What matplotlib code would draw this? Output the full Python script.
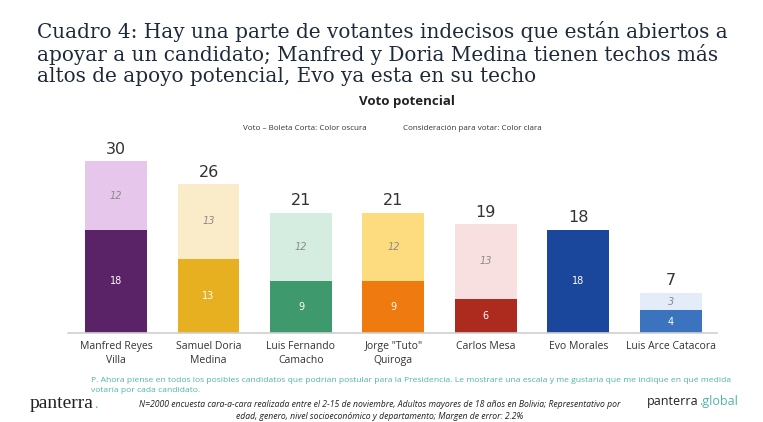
import numpy as np
import matplotlib.pyplot as plt

# Datos del cuadro
candidatos = ['Manfred Reyes\nVilla', 'Samuel Doria\nMedina', 'Luis Fernando\nCamacho',
              'Jorge "Tuto"\nQuiroga', 'Carlos Mesa', 'Evo Morales', 'Luis Arce Catacora']
voto = [18, 13, 9, 9, 6, 18, 4]
consideracion = [12, 13, 12, 12, 13, 0, 3]
totales = [30, 26, 21, 21, 19, 18, 7]

color_oscuro = ['#5a2267', '#e6b020', '#3e9a6c', '#ef7a10', '#ac2a1e', '#1a479b', '#3b73be']
color_claro = ['#e6c6ea', '#faecc8', '#d4ede0', '#fddc80', '#f9e0e0', '#ffffff', '#e3ecf8']

fig = plt.figure(figsize=(7.63, 4.22), dpi=100)
ax = fig.add_axes([68 / 763, 1 - 333 / 422, 649 / 763, 193 / 422])

x = np.arange(len(candidatos))
ancho = 0.67
ax.bar(x, voto, width=ancho, color=color_oscuro)
ax.bar(x, consideracion, width=ancho, bottom=voto, color=color_claro)

for i in range(len(candidatos)):
    ax.text(x[i], voto[i] / 2, str(voto[i]), ha='center', va='center',
            color='white', fontsize=7, family='DejaVu Sans')
    if consideracion[i] > 0:
        ax.text(x[i], voto[i] + consideracion[i] / 2, str(consideracion[i]),
                ha='center', va='center', color='#8a8a8a', fontsize=7,
                style='italic', family='DejaVu Sans')
    ax.text(x[i], totales[i] + 0.8, str(totales[i]), ha='center', va='bottom',
            color='#333333', fontsize=11.5, family='DejaVu Sans')

ax.set_xlim(-0.52, 6.5)
ax.set_ylim(0, 33.7)
ax.set_yticks([])
ax.set_xticks(x)
ax.set_xticklabels(candidatos, fontsize=7.5, color='#333333', family='Open Sans',
                   linespacing=1.3)
ax.tick_params(axis='x', length=0, pad=6)
for lado in ['top', 'right', 'left']:
    ax.spines[lado].set_visible(False)
ax.spines['bottom'].set_color('#d0d0d0')
ax.spines['bottom'].set_linewidth(1.2)

# Título
titulo = ('Cuadro 4: Hay una parte de votantes indecisos que están abiertos a\n'
          'apoyar a un candidato; Manfred y Doria Medina tienen techos más\n'
          'altos de apoyo potencial, Evo ya esta en su techo')
fig.text(37 / 763, 1 - 21 / 422, titulo, ha='left', va='top', fontsize=14.4,
         family='DejaVu Serif', color='#1e2a3a', linespacing=1.13)

fig.text(407 / 763, 1 - 102 / 422, 'Voto potencial', ha='center', va='center',
         fontsize=9.5, fontweight='bold', family='Open Sans', color='#222222')
fig.text(305 / 763, 1 - 128 / 422, 'Voto – Boleta Corta: Color oscura', ha='center',
         va='center', fontsize=5.8, family='Open Sans', color='#333333')
fig.text(472 / 763, 1 - 128 / 422, 'Consideración para votar: Color clara', ha='center',
         va='center', fontsize=5.8, family='Open Sans', color='#333333')

# Notas al pie
nota = ('P. Ahora piense en todos los posibles candidatos que podrían postular para la Presidencia. '
        'Le mostraré una escala y me gustaría que me indique en qué medida\n'
        'votaría por cada candidato.')
fig.text(91 / 763, 1 - 377 / 422, nota, ha='left', va='top', fontsize=6.1,
         family='Open Sans', color='#4fb5a8', linespacing=1.6)

ficha = ('N=2000 encuesta cara-a-cara realizada entre el 2-15 de noviembre, Adultos mayores de 18 años '
         'en Bolivia; Representativo por\nedad, genero, nivel socioeconómico y departamento; '
         'Margen de error: 2.2%')
fig.text(380 / 763, 1 - 400 / 422, ficha, ha='center', va='top', fontsize=6.2,
         family='Open Sans', style='italic', color='#222222', linespacing=1.45)

# Logos
fig.canvas.draw()
renderer = fig.canvas.get_renderer()
logo1 = fig.text(30 / 763, 1 - 404 / 422, 'panterra', ha='left', va='center', fontsize=14,
                 family='Liberation Serif', color='#222222')
fin1 = logo1.get_window_extent(renderer).x1 / fig.bbox.width
fig.text(fin1, 1 - 404 / 422, '.', ha='left', va='center', fontsize=10,
         family='Liberation Serif', color='#4fb5a8')
logo2 = fig.text(647 / 763, 1 - 402 / 422, 'panterra', ha='left', va='center', fontsize=9,
                 family='Open Sans', color='#222222')
fin2 = logo2.get_window_extent(renderer).x1 / fig.bbox.width
fig.text(fin2, 1 - 402 / 422, '.global', ha='left', va='center', fontsize=9,
         family='Open Sans', color='#4fb5a8')

fig.savefig('out.png', dpi=100)
